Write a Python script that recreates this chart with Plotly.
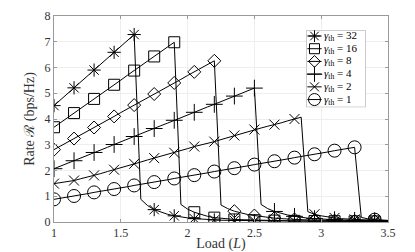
import plotly.graph_objects as go

# Load axis (step 0.05 from 1 to 3.5)
load = [round(1 + 0.05 * i, 2) for i in range(51)]

gamma_labels = ["32", "16", "8", "4", "2", "1"]

rate_32 = [4.52, 4.75, 4.98, 5.21, 5.44, 5.67, 5.90, 6.13, 6.36, 6.59, 6.82, 7.05, 7.28,
           0.88, 0.64, 0.48, 0.38, 0.30, 0.24, 0.19, 0.16, 0.13, 0.11, 0.095, 0.08,
           0.07, 0.065, 0.06, 0.055, 0.05, 0.047, 0.044, 0.041, 0.038, 0.036, 0.034, 0.032,
           0.03, 0.029, 0.028, 0.027, 0.026, 0.025, 0.024, 0.023, 0.022, 0.021, 0.02, 0.02,
           0.019, 0.018]
rate_16 = [3.68, 3.86, 4.05, 4.23, 4.41, 4.60, 4.78, 4.96, 5.15, 5.33, 5.51, 5.70, 5.88,
           6.06, 6.25, 6.43, 6.61, 6.80, 6.98,
           0.68, 0.50, 0.38, 0.29, 0.22, 0.17, 0.14, 0.12, 0.10, 0.09, 0.08, 0.07,
           0.065, 0.06, 0.055, 0.05, 0.047, 0.044, 0.041, 0.038, 0.036, 0.034, 0.032,
           0.03, 0.029, 0.028, 0.027, 0.026, 0.025, 0.024, 0.023, 0.022]
rate_8 = [2.81, 2.95, 3.10, 3.24, 3.39, 3.53, 3.67, 3.82, 3.96, 4.10, 4.25, 4.39, 4.54,
          4.68, 4.82, 4.97, 5.11, 5.25, 5.40, 5.54, 5.69, 5.83, 5.97, 6.12, 6.26,
          0.66, 0.52, 0.42, 0.35, 0.29, 0.25, 0.21, 0.18, 0.15, 0.13, 0.11, 0.10, 0.09,
          0.08, 0.07, 0.065, 0.06, 0.055, 0.05, 0.047, 0.044, 0.041, 0.038, 0.036, 0.034,
          0.032]
rate_4 = [2.07, 2.17, 2.28, 2.38, 2.49, 2.59, 2.70, 2.80, 2.90, 3.01, 3.11, 3.22, 3.32,
          3.43, 3.53, 3.63, 3.74, 3.84, 3.95, 4.05, 4.16, 4.26, 4.36, 4.47, 4.57, 4.68,
          4.78, 4.89, 4.99, 5.10, 5.20,
          0.68, 0.52, 0.41, 0.33, 0.27, 0.22, 0.18, 0.15, 0.13, 0.11, 0.10, 0.09, 0.08,
          0.07, 0.065, 0.06, 0.055, 0.05, 0.047, 0.044]
rate_2 = [1.49, 1.53, 1.57, 1.61, 1.68, 1.74, 1.81, 1.88, 1.96, 2.03, 2.11, 2.18, 2.26,
          2.33, 2.41, 2.48, 2.55, 2.62, 2.69, 2.77, 2.85, 2.93, 2.99, 3.06, 3.12, 3.20,
          3.28, 3.36, 3.44, 3.51, 3.59, 3.65, 3.72, 3.78, 3.85, 3.93, 4.00, 4.07,
          0.40, 0.30, 0.24, 0.19, 0.16, 0.13, 0.11, 0.10, 0.09, 0.08, 0.07, 0.065, 0.06]
rate_1 = [0.88, 0.92, 0.97, 1.01, 1.06, 1.10, 1.15, 1.19, 1.24, 1.28, 1.33, 1.37, 1.42,
          1.46, 1.51, 1.55, 1.60, 1.64, 1.69, 1.73, 1.78, 1.82, 1.87, 1.91, 1.96, 2.00,
          2.05, 2.09, 2.14, 2.18, 2.23, 2.27, 2.32, 2.36, 2.41, 2.45, 2.50, 2.54, 2.59,
          2.63, 2.68, 2.72, 2.77, 2.81, 2.86, 2.90,
          0.18, 0.12, 0.09, 0.07, 0.06]

series = [rate_32, rate_16, rate_8, rate_4, rate_2, rate_1]
symbols = ["asterisk-open", "square-open", "diamond-open", "cross-thin-open",
           "x-thin-open", "circle-open"]
sizes = [11, 11, 10, 12, 10, 13]

SERIF = "Liberation Serif"
fig = go.Figure()
for lab, ys, sym, sz in zip(gamma_labels, series, symbols, sizes):
    fig.add_trace(go.Scatter(x=load, y=ys, mode="lines", line=dict(color="black", width=1),
                             showlegend=False, hoverinfo="skip"))
    fig.add_trace(go.Scatter(x=load[::3], y=ys[::3], mode="markers",
                             marker=dict(symbol=sym, size=sz, color="black",
                                         line=dict(color="black", width=1)),
                             name="γth = " + lab, showlegend=False))

# Compact legend drawn on its own small axes
leg_rows = [0.925 - 0.165 * i for i in range(6)]
for lab, sym, sz, ry in zip(gamma_labels, symbols, sizes, leg_rows):
    fig.add_trace(go.Scatter(x=[0.02, 0.26], y=[ry, ry], mode="lines",
                             line=dict(color="black", width=1), xaxis="x2", yaxis="y2",
                             showlegend=False, hoverinfo="skip"))
    fig.add_trace(go.Scatter(x=[0.14], y=[ry], mode="markers", xaxis="x2", yaxis="y2",
                             marker=dict(symbol=sym, size=sz - 1, color="black",
                                         line=dict(color="black", width=1)),
                             showlegend=False, hoverinfo="skip"))
    fig.add_annotation(x=0.27, y=ry, xref="x2", yref="y2", xanchor="left",
                       yanchor="middle", showarrow=False,
                       text="<i>γ</i><sub>th</sub> = " + lab,
                       font=dict(family=SERIF, size=11, color="black"))

fig.add_shape(type="rect", xref="x2", yref="y2", x0=0, x1=1, y0=0, y1=1,
              line=dict(color="#a0a0a0", width=1), fillcolor="white", layer="below")

axis_common = dict(showline=True, linecolor="#9a9a9a", linewidth=1, mirror="ticks",
                   ticks="inside", ticklen=3, tickcolor="#9a9a9a", automargin=False,
                   showgrid=True, gridcolor="#eeeeee", gridwidth=1, zeroline=False,
                   tickfont=dict(family=SERIF, size=12, color="#333333"))

# The page body has an 8px margin, so the figure is 8px smaller and margins shifted
fig.update_layout(
    xaxis=dict(range=[1, 3.5], tickvals=[1, 1.5, 2, 2.5, 3, 3.5],
               ticktext=["1", "1.5", "2", "2.5", "3", "3.5"],
               title=dict(text="Load (<i>L</i>)", standoff=5,
                          font=dict(family=SERIF, size=14, color="#333333")),
               **axis_common),
    yaxis=dict(range=[0, 8], tickvals=list(range(9)),
               title=dict(text="Rate ℛ (bps/Hz)", standoff=6,
                          font=dict(family=SERIF, size=14, color="#333333")),
               **axis_common),
    xaxis2=dict(domain=[0.755, 0.933], range=[0, 1], visible=False, fixedrange=True,
                anchor="y2"),
    yaxis2=dict(domain=[0.557, 0.931], range=[0, 1], visible=False, fixedrange=True,
                anchor="x2"),
    width=407, height=244, margin=dict(l=46, r=27, t=8, b=30),
    paper_bgcolor="white", plot_bgcolor="white", showlegend=False,
)

fig.write_html("out.html")
